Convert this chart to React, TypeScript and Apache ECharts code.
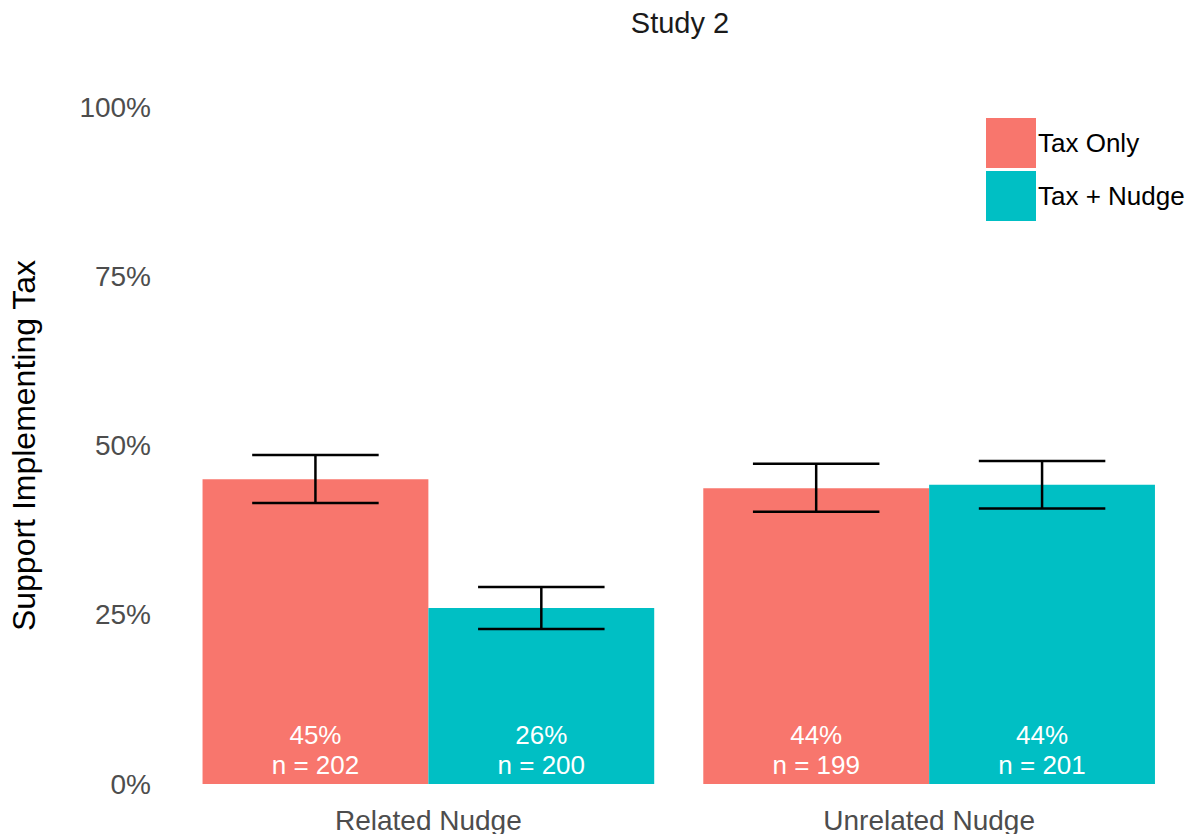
import React, { useEffect, useRef } from "react";
import * as echarts from "echarts";

const categories = ["Related Nudge", "Unrelated Nudge"];
const seriesNames = ["Tax Only", "Tax + Nudge"];
const taxOnly = [45.0, 43.7];
const taxNudge = [26.0, 44.2];
const taxOnlyLow = [41.5, 40.2];
const taxOnlyHigh = [48.6, 47.3];
const taxNudgeLow = [22.9, 40.7];
const taxNudgeHigh = [29.1, 47.7];
const taxOnlyN = [202, 199];
const taxNudgeN = [200, 201];
const yTicks = [0, 25, 50, 75, 100];

const colors = ["#F8766D", "#00BFC4"];
const FONT = "Liberation Sans, Arial, sans-serif";

export default function App() {
  const ref = useRef<HTMLDivElement>(null);
  useEffect(() => {
    if (!ref.current) return;
    const chart = echarts.init(ref.current, null, { renderer: "svg" });
    const barFrac = 226 / 501;
    const mkErr = (low: number[], high: number[], side: number) => ({
      type: "custom",
      silent: true,
      z: 10,
      data: low.map((l, i) => [i, l, high[i]]),
      renderItem: (params: any, api: any) => {
        const ci = api.value(0);
        const lo = api.coord([ci, api.value(1)]);
        const hi = api.coord([ci, api.value(2)]);
        const band = api.size([1, 0])[0];
        const cx = lo[0] + side * band * barFrac / 2;
        const hw = band * barFrac * 0.28;
        const st = { stroke: "#000", lineWidth: 2.5 };
        return {
          type: "group",
          children: [
            { type: "line", shape: { x1: cx, y1: lo[1], x2: cx, y2: hi[1] }, style: st },
            { type: "line", shape: { x1: cx - hw, y1: lo[1], x2: cx + hw, y2: lo[1] }, style: st },
            { type: "line", shape: { x1: cx - hw, y1: hi[1], x2: cx + hw, y2: hi[1] }, style: st },
          ],
        };
      },
    });
    const mkBar = (name: string, vals: number[], ns: number[], color: string) => ({
      type: "bar",
      name,
      data: vals,
      barGap: "0%",
      barCategoryGap: "9.8%",
      itemStyle: { color },
      label: {
        show: true,
        position: "insideBottom",
        distance: 4,
        color: "#fff",
        fontFamily: FONT,
        fontSize: 26,
        lineHeight: 30,
        formatter: (p: any) => `${Math.round(p.value)}%\nn = ${ns[p.dataIndex]}`,
      },
    });
    chart.setOption({
      animation: false,
      title: {
        text: "Study 2",
        left: 675,
        textAlign: "center",
        top: 3,
        textStyle: { fontFamily: FONT, fontSize: 29, fontWeight: "normal", color: "#1a1a1a" },
      },
      legend: {
        data: seriesNames,
        orient: "vertical",
        left: 986,
        top: 118,
        itemWidth: 50,
        itemHeight: 50,
        itemGap: 3,
        icon: "rect",
        padding: 0,
        textStyle: { fontFamily: FONT, fontSize: 26, color: "#000", padding: [0, 0, 0, -3] },
      },
      grid: { left: 177.5, right: 13.5, top: 107, bottom: 50, containLabel: false },
      xAxis: {
        type: "category",
        data: categories,
        axisLine: { show: false },
        axisTick: { show: false },
        axisLabel: { fontFamily: FONT, fontSize: 28, color: "#4d4d4d", margin: 22 },
      },
      yAxis: {
        type: "value",
        min: yTicks[0],
        max: yTicks[yTicks.length - 1],
        interval: 25,
        name: "Support Implementing Tax",
        nameLocation: "middle",
        nameGap: 138,
        nameRotate: 90,
        nameTextStyle: { fontFamily: FONT, fontSize: 32, color: "#000" },
        splitLine: { show: false },
        axisLine: { show: false },
        axisTick: { show: false },
        axisLabel: {
          fontFamily: FONT,
          fontSize: 28,
          color: "#4d4d4d",
          margin: 27,
          formatter: (v: number) => `${v}%`,
        },
      },
      series: [
        mkBar(seriesNames[0], taxOnly, taxOnlyN, colors[0]),
        mkBar(seriesNames[1], taxNudge, taxNudgeN, colors[1]),
        mkErr(taxOnlyLow, taxOnlyHigh, -1),
        mkErr(taxNudgeLow, taxNudgeHigh, 1),
      ],
    });
    return () => chart.dispose();
  }, []);
  return <div ref={ref} style={{ width: 1193, height: 834, position: "absolute", left: 0, top: 0 }} />;
}
